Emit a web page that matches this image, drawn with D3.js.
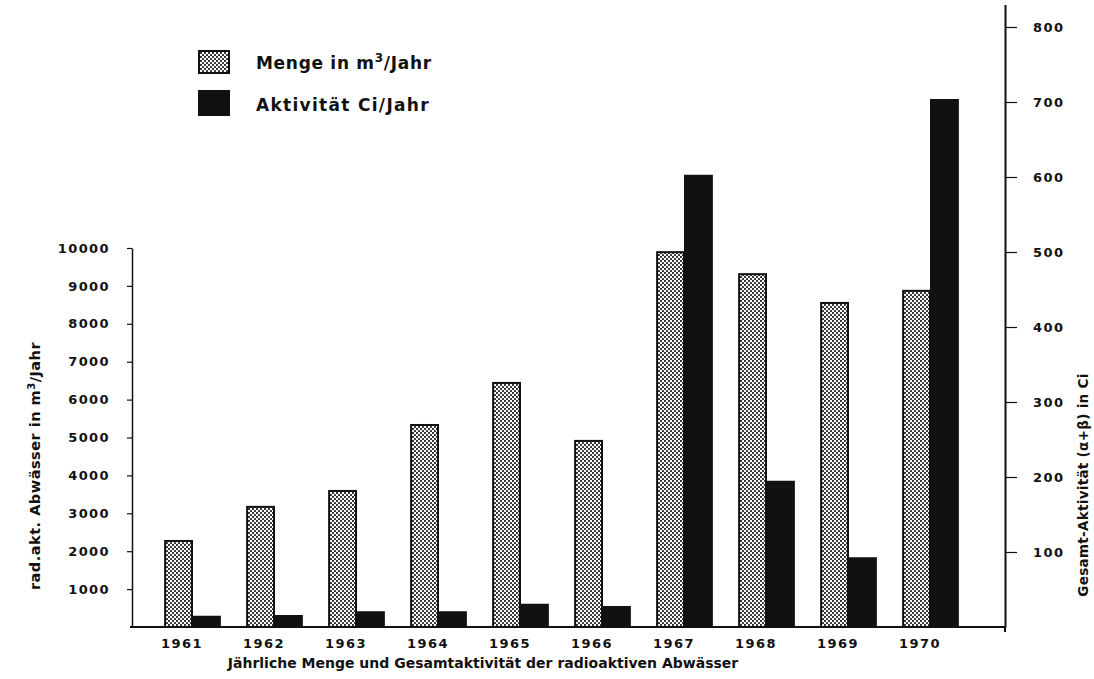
<!DOCTYPE html>
<html>
<head>
<meta charset="utf-8">
<script src="https://cdn.jsdelivr.net/npm/d3@7"></script>
<style>
  body { margin: 0; background: #fff; }
  svg { display: block; }
  text { font-family: "DejaVu Sans", sans-serif; fill: #111; }
</style>
</head>
<body>
<svg id="chart" width="1094" height="679"></svg>
<script>
// data
let years = ["1961", "1962", "1963", "1964", "1965", "1966", "1967", "1968", "1969", "1970"];
let menge = [2270, 3170, 3590, 5330, 6440, 4910, 9890, 9310, 8550, 8870];       // m3/Jahr, left axis
let aktivitaet = [15, 16, 21, 21, 31, 28, 603, 195, 93, 704];                   // Ci/Jahr, right axis
let leftTicks = [1000, 2000, 3000, 4000, 5000, 6000, 7000, 8000, 9000, 10000];
let rightTicks = [100, 200, 300, 400, 500, 600, 700, 800];

let svg = d3.select("#chart");
let width = 1094, height = 679;
let margin = {left: 132, right: 89, top: 4, bottom: 52};
let baseY = height - margin.bottom;

let defs = svg.append("defs");
let pat = defs.append("pattern")
    .attr("id", "dots")
    .attr("patternUnits", "userSpaceOnUse")
    .attr("width", 4).attr("height", 4);
pat.append("rect").attr("width", 4).attr("height", 4).attr("fill", "#fff");
pat.append("circle").attr("cx", 1).attr("cy", 1).attr("r", 1.1).attr("fill", "#222");
pat.append("circle").attr("cx", 3).attr("cy", 3).attr("r", 1.1).attr("fill", "#222");

let x = d3.scaleBand()
    .domain(years)
    .range([151, 971])
    .paddingInner(0.32)
    .paddingOuter(0.16);
let half = x.bandwidth() / 2;

let yL = d3.scaleLinear().domain([0, 10000]).range([baseY, 248]);
let yR = d3.scaleLinear().domain([0, 830]).range([baseY, 4.5]);

let rows = years.map((y, i) => ({year: y, m: menge[i], a: aktivitaet[i]}));

// bars
let g = svg.append("g").attr("class", "bars");
g.selectAll("rect.m")
  .data(rows)
  .join("rect")
    .attr("class", "m")
    .attr("x", d => x(d.year) + 1)
    .attr("width", half - 1)
    .attr("y", d => yL(d.m))
    .attr("height", d => baseY - yL(d.m))
    .attr("fill", "url(#dots)")
    .attr("stroke", "#111")
    .attr("stroke-width", 2);
g.selectAll("rect.a")
  .data(rows)
  .join("rect")
    .attr("class", "a")
    .attr("x", d => x(d.year) + half)
    .attr("width", half + 1)
    .attr("y", d => yR(d.a))
    .attr("height", d => baseY - yR(d.a))
    .attr("fill", "#111");

// left axis
let axL = svg.append("g")
    .attr("transform", `translate(${margin.left},0)`)
    .call(d3.axisLeft(yL).tickValues(leftTicks).tickSize(5).tickSizeOuter(0).tickFormat(d3.format("d")).tickPadding(17));
axL.select(".domain").attr("stroke", "#111").attr("stroke-width", 1.5);
axL.selectAll(".tick line").attr("stroke", "#111").attr("stroke-width", 1.2);
axL.selectAll(".tick text")
    .style("font-size", "13px").style("font-weight", "bold").style("letter-spacing", "1.4px").attr("fill", "#111");

// right axis
let axR = svg.append("g")
    .attr("transform", `translate(${width - margin.right},0)`)
    .call(d3.axisRight(yR).tickValues(rightTicks).tickSize(12).tickSizeOuter(0).tickPadding(16));
axR.select(".domain").attr("stroke", "#111").attr("stroke-width", 2);
axR.selectAll(".tick line").attr("stroke", "#111").attr("stroke-width", 1.2);
axR.selectAll(".tick text")
    .style("font-size", "13px").style("font-weight", "bold").style("letter-spacing", "1.4px").attr("fill", "#111");

// baseline
svg.append("line")
    .attr("x1", margin.left - 2).attr("x2", width - margin.right)
    .attr("y1", baseY).attr("y2", baseY)
    .attr("stroke", "#111").attr("stroke-width", 2);
svg.append("line")
    .attr("x1", width - margin.right).attr("x2", width - margin.right)
    .attr("y1", baseY).attr("y2", baseY + 5)
    .attr("stroke", "#111").attr("stroke-width", 2);

// year labels
let axX = svg.append("g")
    .attr("transform", `translate(-10,${baseY})`)
    .call(d3.axisBottom(x).tickSize(0).tickPadding(12));
axX.select(".domain").remove();
axX.selectAll(".tick text")
    .style("font-size", "13px").style("font-weight", "bold").style("letter-spacing", "1.5px").attr("fill", "#111");

// bottom caption
svg.append("text")
    .attr("x", 483).attr("y", 668)
    .attr("text-anchor", "middle")
    .style("font-size", "14px").style("font-weight", "bold")
    .text("Jährliche Menge und Gesamtaktivität der radioaktiven Abwässer");

// left axis title
let lt = svg.append("text")
    .attr("transform", "translate(40,466) rotate(-90)")
    .attr("text-anchor", "middle")
    .style("font-size", "14.5px").style("font-weight", "bold").style("letter-spacing", "0.5px");
lt.append("tspan").text("rad.akt. Abwässer in m");
lt.append("tspan").attr("baseline-shift", "super").style("font-size", "10px").text("3");
lt.append("tspan").text("/Jahr");

// right axis title
svg.append("text")
    .attr("transform", "translate(1088,485) rotate(-90)")
    .attr("text-anchor", "middle")
    .style("font-size", "13.5px").style("font-weight", "bold").style("letter-spacing", "0.3px")
    .text("Gesamt-Aktivität (α+β) in Ci");

// legend
let legend = svg.append("g").attr("class", "legend");
legend.append("rect").attr("x", 199).attr("y", 51).attr("width", 30).attr("height", 22)
    .attr("fill", "url(#dots)").attr("stroke", "#111").attr("stroke-width", 2);
legend.append("rect").attr("x", 198).attr("y", 90).attr("width", 32).attr("height", 26)
    .attr("fill", "#111");
let l1 = legend.append("text").attr("x", 256).attr("y", 69)
    .style("font-size", "17px").style("font-weight", "bold").style("letter-spacing", "0.7px");
l1.append("tspan").text("Menge in m");
l1.append("tspan").attr("baseline-shift", "super").style("font-size", "12px").text("3");
l1.append("tspan").text("/Jahr");
legend.append("text").attr("x", 256).attr("y", 111)
    .style("font-size", "17px").style("font-weight", "bold").style("letter-spacing", "1.3px")
    .text("Aktivität Ci/Jahr");
</script>
</body>
</html>
